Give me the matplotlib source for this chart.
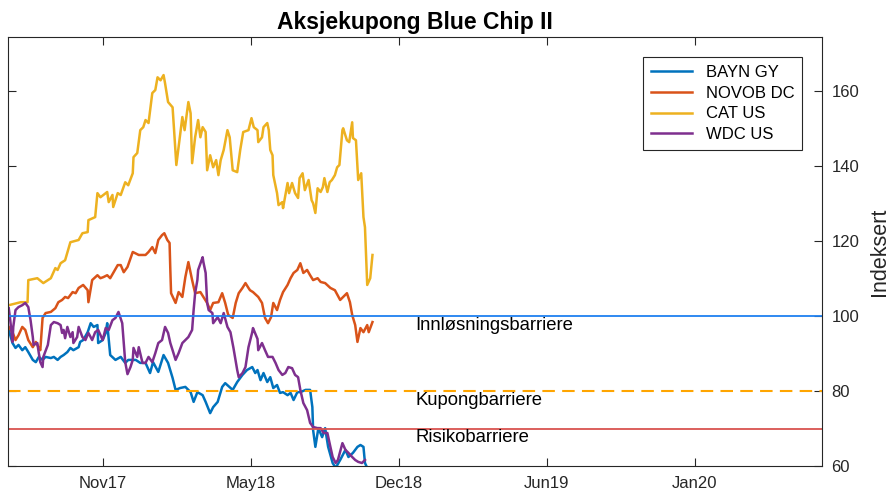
import numpy as np
import matplotlib
matplotlib.use('Agg')
import matplotlib.pyplot as plt

plt.rcParams['font.family'] = ['Liberation Sans', 'DejaVu Sans']

# indekserte kurser, dager etter startdato
start = np.datetime64('2017-07-07')

bayn_days = [1, 6, 10, 14, 19, 23, 27, 33, 37, 41, 46, 50, 57, 61, 66, 70, 74, 79, 83, 87,
             94, 96, 100, 106, 110, 114, 119, 120, 126, 130, 132, 136, 143, 150, 156, 160, 170,
             176, 183, 189, 193, 200, 207, 213, 219, 223, 229, 236, 243, 247, 252, 259, 263,
             269, 273, 279, 285, 289, 299, 305, 312, 318, 325, 329, 332, 336, 340, 345, 349,
             353, 358, 362, 366, 372, 376, 380, 385, 389, 396, 402, 405, 406, 409, 413, 418,
             422, 426, 432, 436, 442, 449, 453, 459, 465, 469, 473, 475, 478]
bayn_vals = [96.3, 92.8, 91.5, 92.3, 90.9, 91.7, 90.4, 88.3, 87.7, 89.1, 88.3, 89.1, 88.8, 89.1,
             88.3, 89.1, 89.6, 90.4, 91.5, 90.9, 91.7, 93.1, 93.6, 95.7, 98.1, 97.1, 97.6, 92.8,
             93.6, 95.5, 98.1, 89.6, 88.3, 89.1, 87.5, 88.3, 88.3, 87.5, 87.5, 84.8, 87.7, 85.1,
             89.6, 87.5, 83.5, 80.3, 80.8, 81.1, 79.7, 77.1, 79.7, 78.9, 77.1, 74.1, 75.7, 77.1,
             81.1, 82.1, 80.3, 82.4, 84.3, 85.6, 86.4, 84.8, 85.6, 82.9, 84.8, 82.4, 83.7, 80.8,
             81.6, 79.5, 79.7, 78.9, 79.5, 77.6, 79.7, 79.7, 80.3, 80.3, 75.7, 69.6, 65.1, 70.1,
             67.7, 70.1, 65.1, 60.8, 59.5, 61.6, 64.3, 62.4, 63.5, 65.1, 65.6, 65.1, 60.8, 59.5]

novob_days = [1, 6, 10, 14, 19, 23, 27, 33, 37, 41, 43, 46, 50, 57, 63, 67, 72, 76, 80, 86,
              90, 94, 100, 106, 107, 112, 119, 123, 127, 132, 136, 140, 146, 150, 154, 159, 166,
              174, 183, 187, 192, 196, 200, 205, 208, 212, 215, 216, 217, 223, 227, 232, 236,
              240, 245, 249, 256, 260, 265, 269, 273, 280, 285, 289, 293, 299, 303, 307, 312,
              316, 320, 322, 326, 333, 338, 342, 346, 350, 353, 358, 362, 366, 372, 376, 380,
              385, 389, 393, 398, 402, 406, 412, 416, 422, 429, 435, 442, 446, 451, 455, 458,
              462, 465, 469, 473, 478, 480, 485]
novob_vals = [97.1, 95.7, 93.6, 94.9, 97.1, 96.3, 93.6, 91.7, 93.1, 91.5, 90.9, 99.5, 100.8,
              101.1, 102.1, 103.7, 104.3, 105.1, 104.8, 106.4, 106.1, 107.5, 108.3, 106.9, 103.7,
              109.6, 110.9, 110.1, 110.4, 110.9, 110.1, 111.5, 113.6, 113.6, 111.7, 113.1, 117.1,
              116.3, 116.3, 117.1, 118.4, 116.8, 120.3, 121.6, 122.1, 120.3, 119.5, 112.3, 106.1,
              103.5, 106.4, 105.1, 110.4, 114.4, 109.6, 106.1, 106.4, 105.1, 103.5, 101.6, 103.5,
              103.7, 106.1, 103.5, 100.3, 99.5, 103.5, 106.1, 107.5, 108.8, 107.5, 106.9, 106.4,
              105.1, 103.5, 99.5, 98.1, 99.7, 103.5, 101.6, 104.3, 106.4, 108.3, 110.1, 111.5,
              112.3, 114.1, 111.5, 112.3, 110.9, 109.6, 110.1, 109.1, 108.8, 107.5, 106.9, 104.3,
              105.1, 106.1, 103.7, 100.3, 97.6, 93.1, 96.8, 95.7, 97.6, 95.7, 98.4]

cat_days = [1, 17, 26, 27, 39, 47, 57, 63, 66, 70, 76, 83, 94, 99, 106, 107, 116, 119, 123,
            132, 134, 139, 140, 146, 150, 156, 160, 166, 167, 172, 176, 180, 183, 187, 192, 196,
            199, 203, 207, 209, 213, 219, 221, 224, 227, 232, 235, 240, 243, 245, 249, 253, 256,
            259, 263, 265, 269, 273, 277, 280, 283, 287, 292, 295, 299, 305, 309, 313, 320, 324,
            327, 332, 333, 338, 340, 345, 347, 349, 352, 353, 358, 360, 365, 366, 372, 374, 378,
            382, 386, 388, 392, 395, 400, 404, 406, 409, 412, 416, 419, 421, 425, 428, 431, 435,
            438, 441, 445, 446, 451, 454, 458, 459, 463, 466, 470, 473, 475, 478, 482, 485]
cat_vals = [102.9, 103.7, 103.7, 109.6, 110.1, 108.8, 110.1, 112.8, 112.3, 114.1, 114.9, 119.7,
            120.3, 122.1, 122.4, 125.6, 126.4, 132.8, 131.7, 133.1, 130.4, 132.3, 129.1, 132.8,
            132.3, 135.7, 134.9, 138.1, 142.4, 143.5, 149.6, 150.4, 152.3, 151.5, 159.5, 160.3,
            163.7, 162.9, 164.3, 162.1, 157.1, 155.7, 149.6, 140.3, 145.1, 153.1, 149.6, 157.1,
            154.1, 140.8, 147.7, 152.3, 147.7, 150.4, 149.1, 138.9, 142.9, 139.7, 141.6, 137.6,
            141.6, 144.3, 149.6, 147.7, 138.9, 138.4, 144.3, 149.1, 149.6, 152.8, 150.4, 149.6,
            146.4, 147.7, 150.4, 151.5, 149.6, 144.3, 142.9, 137.6, 132.8, 129.6, 130.4, 128.8,
            135.5, 132.8, 135.5, 132.8, 131.5, 136.8, 138.1, 133.6, 136.3, 130.9, 130.1, 127.5,
            134.1, 133.1, 134.4, 136.8, 133.1, 135.7, 136.3, 137.6, 139.7, 140.3, 149.6, 150.1,
            146.9, 146.4, 151.7, 147.5, 146.9, 136.3, 138.1, 126.4, 123.7, 108.3, 110.1, 116.3]

wdc_days = [1, 3, 6, 7, 10, 14, 19, 23, 27, 30, 33, 34, 39, 41, 43, 46, 47, 53, 57, 61, 66,
            70, 72, 74, 76, 79, 83, 86, 87, 92, 94, 99, 103, 107, 112, 116, 120, 126, 130, 134,
            139, 143, 147, 152, 156, 159, 163, 166, 167, 172, 174, 179, 183, 187, 192, 196, 200,
            205, 209, 213, 216, 219, 223, 227, 232, 236, 240, 245, 247, 249, 252, 253, 259, 260,
            263, 265, 267, 272, 273, 279, 283, 287, 292, 296, 300, 305, 307, 312, 316, 320, 325,
            326, 332, 333, 338, 342, 346, 352, 356, 360, 365, 369, 373, 378, 382, 386, 389, 393,
            398, 402, 406, 412, 416, 420, 425, 429, 432, 436, 439, 445, 449, 453, 458, 462, 466,
            471, 475]
wdc_vals = [102.1, 98.9, 93.1, 97.1, 101.6, 102.4, 102.9, 103.5, 102.4, 98.9, 94.4, 92.3, 92.8,
            90.1, 87.7, 86.4, 89.1, 92.3, 97.6, 98.4, 98.1, 97.6, 95.5, 96.3, 94.1, 97.1, 94.4,
            95.7, 92.8, 94.4, 97.1, 94.4, 93.6, 95.5, 93.6, 95.7, 96.3, 93.6, 96.8, 96.3, 98.9,
            99.5, 101.1, 98.1, 87.7, 84.5, 86.4, 88.3, 91.5, 89.1, 91.7, 87.5, 87.5, 89.1, 87.7,
            90.1, 92.8, 93.6, 97.1, 95.5, 92.8, 90.9, 88.3, 90.1, 92.8, 93.6, 94.4, 96.3, 101.6,
            106.1, 109.6, 112.3, 115.7, 114.4, 111.5, 103.5, 101.6, 100.8, 98.1, 99.7, 98.1,
            100.8, 97.1, 95.7, 91.5, 85.6, 83.7, 84.8, 86.4, 91.7, 95.7, 96.8, 93.9, 90.9, 92.8,
            90.9, 89.1, 89.1, 87.5, 85.6, 84.3, 84.8, 86.4, 86.1, 84.3, 83.7, 80.3, 76.8, 74.9,
            71.5, 70.4, 70.1, 70.1, 68.8, 68.8, 65.1, 62.4, 60.8, 61.6, 66.1, 64.3, 63.5, 62.4,
            61.6, 61.1, 60.8, 61.6]

series = ['BAYN GY', 'NOVOB DC', 'CAT US', 'WDC US']
farger = ['#0072BD', '#D95319', '#EDB120', '#7E2F8E']

barrierer = [100, 80, 70]
barriere_navn = ['Innløsningsbarriere', 'Kupongbarriere', 'Risikobarriere']

tick_datoer = ['2017-11-10', '2018-05-26', '2018-12-09', '2019-06-24', '2020-01-07']
tick_navn = ['Nov17', 'May18', 'Dec18', 'Jun19', 'Jan20']


def til_dato(dager):
    return start + np.array(dager).astype('timedelta64[D]')


fig = plt.figure(figsize=(8.89, 4.96), dpi=100)
ax = fig.add_axes([0.009, 0.0605, 0.9155, 0.8645])

alle = [(bayn_days, bayn_vals), (novob_days, novob_vals),
        (cat_days, cat_vals), (wdc_days, wdc_vals)]
for (d, v), navn, c in zip(alle, series, farger):
    ax.plot(til_dato(d), v, color=c, lw=1.8, label=navn)

# barrierer
ax.axhline(barrierer[0], color='#1f80f0', lw=1.3)
ax.axhline(barrierer[1], color='#ffa500', lw=1.5, ls=(0, (6, 3.5)))
ax.axhline(barrierer[2], color='#d9534f', lw=1.3)

tekst_x = np.datetime64('2018-12-31')
for b, navn in zip(barrierer, barriere_navn):
    ax.text(tekst_x, b - 2.5, navn, fontsize=13.3, va='center', ha='left', color='black')

ax.set_xlim(np.datetime64('2017-07-07'), np.datetime64('2020-06-24'))
ax.set_ylim(60, 174.4)
ax.set_xticks(np.array(tick_datoer, dtype='datetime64[D]'))
ax.set_xticklabels(tick_navn)
ax.set_yticks([60, 80, 100, 120, 140, 160])

ax.tick_params(direction='in', length=5.5, width=0.8, colors='#262626', labelsize=12,
               top=True, bottom=True, left=True, right=True,
               labelleft=False, labelright=True)
ax.tick_params(axis='x', pad=7)
ax.tick_params(axis='y', pad=7)
ax.yaxis.set_label_position('right')
ax.set_ylabel('Indeksert', fontsize=15.5, color='#262626', labelpad=7)
for s in ax.spines.values():
    s.set_color('#262626')
    s.set_linewidth(0.8)

ax.set_title('Aksjekupong Blue Chip II', fontsize=16.5, fontweight='bold', pad=6)

leg = ax.legend(loc='upper right', fontsize=12, handlelength=2.5, fancybox=False,
                framealpha=1, edgecolor='#262626', borderaxespad=1.2,
                labelspacing=0.35, borderpad=0.45)
leg.get_frame().set_linewidth(0.8)

fig.savefig('out.png', dpi=100)
